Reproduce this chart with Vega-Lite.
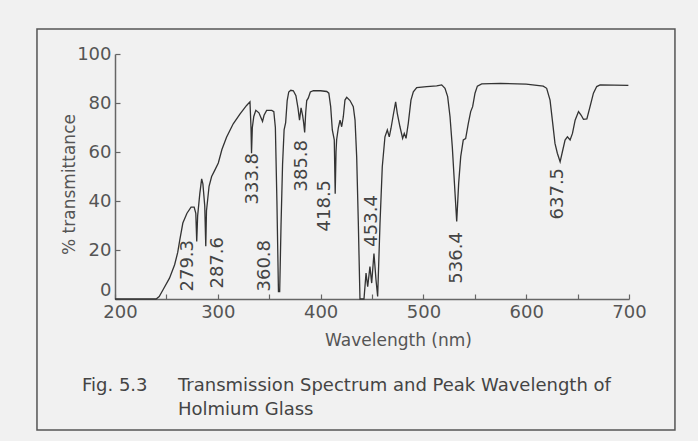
{
  "$schema": "https://vega.github.io/schema/vega-lite/v6.json",
  "width": 514,
  "height": 245,
  "autosize": {"type": "none"},
  "padding": {"left": 115, "top": 54, "right": 69, "bottom": 142},
  "background": "#f1f1f1",
  "config": {
    "view": {"stroke": null},
    "font": "DejaVu Sans",
    "axis": {
      "grid": false,
      "domainColor": "#666",
      "domainWidth": 1.5,
      "tickColor": "#666",
      "tickWidth": 1.2,
      "tickSize": -5,
      "labelFlush": false,
      "labelFont": "DejaVu Sans",
      "labelFontSize": 18,
      "labelColor": "#555",
      "titleFont": "DejaVu Sans",
      "titleFontSize": 17,
      "titleFontWeight": "normal",
      "titleColor": "#555"
    }
  },
  "datasets": {
    "spectrum": [
      {"wl": 200, "t": 0}, {"wl": 240, "t": 0}, {"wl": 243, "t": 1}, {"wl": 247, "t": 4}, {"wl": 253, "t": 8.5},
      {"wl": 258, "t": 14}, {"wl": 261, "t": 19}, {"wl": 263, "t": 24}, {"wl": 266, "t": 31}, {"wl": 270, "t": 35},
      {"wl": 274, "t": 37.5}, {"wl": 277, "t": 37.5}, {"wl": 278.6, "t": 35}, {"wl": 279.5, "t": 23.5}, {"wl": 280.4, "t": 34},
      {"wl": 282.5, "t": 43}, {"wl": 284.3, "t": 49}, {"wl": 285.5, "t": 47}, {"wl": 287.3, "t": 38}, {"wl": 288.3, "t": 21.5},
      {"wl": 289, "t": 36}, {"wl": 290, "t": 40}, {"wl": 291.5, "t": 46}, {"wl": 294, "t": 50}, {"wl": 297, "t": 52.5},
      {"wl": 300.5, "t": 55.5}, {"wl": 304, "t": 61}, {"wl": 308.5, "t": 66}, {"wl": 315, "t": 71.5}, {"wl": 321.5, "t": 75.5},
      {"wl": 328, "t": 79}, {"wl": 331.3, "t": 80.5}, {"wl": 332.3, "t": 70}, {"wl": 332.8, "t": 59.5}, {"wl": 333.6, "t": 70},
      {"wl": 335, "t": 74.5}, {"wl": 337, "t": 77}, {"wl": 340, "t": 76}, {"wl": 343.5, "t": 72.5}, {"wl": 345, "t": 75},
      {"wl": 347.5, "t": 77}, {"wl": 352.5, "t": 77}, {"wl": 354.5, "t": 76.5}, {"wl": 356, "t": 70}, {"wl": 357.5, "t": 40},
      {"wl": 359, "t": 3}, {"wl": 360.2, "t": 3}, {"wl": 361.5, "t": 30}, {"wl": 363, "t": 55}, {"wl": 364.5, "t": 69},
      {"wl": 366, "t": 72}, {"wl": 367.5, "t": 81}, {"wl": 369, "t": 84.5}, {"wl": 371, "t": 85.2}, {"wl": 373.5, "t": 85},
      {"wl": 376, "t": 83}, {"wl": 378, "t": 78}, {"wl": 379.5, "t": 73}, {"wl": 381, "t": 78}, {"wl": 382.5, "t": 75},
      {"wl": 383.5, "t": 72}, {"wl": 384.5, "t": 68}, {"wl": 385.5, "t": 76}, {"wl": 386.5, "t": 81}, {"wl": 388, "t": 82},
      {"wl": 390, "t": 84.5}, {"wl": 393, "t": 85}, {"wl": 400, "t": 85}, {"wl": 406, "t": 84.7}, {"wl": 408, "t": 84},
      {"wl": 409.8, "t": 78.5}, {"wl": 411.4, "t": 69}, {"wl": 413.3, "t": 65}, {"wl": 414.2, "t": 43}, {"wl": 415, "t": 60},
      {"wl": 415.6, "t": 65}, {"wl": 417.2, "t": 69.7}, {"wl": 418.9, "t": 73}, {"wl": 420.5, "t": 70.3}, {"wl": 422.1, "t": 74.4},
      {"wl": 423.7, "t": 81.2}, {"wl": 425.4, "t": 82.3}, {"wl": 428.6, "t": 81}, {"wl": 431.8, "t": 78.5}, {"wl": 433.5, "t": 73},
      {"wl": 435.1, "t": 58}, {"wl": 436.7, "t": 31}, {"wl": 438.3, "t": 0}, {"wl": 442.2, "t": 0}, {"wl": 444.2, "t": 10.6},
      {"wl": 445.8, "t": 5}, {"wl": 448, "t": 13.2}, {"wl": 449.7, "t": 6.5}, {"wl": 451.9, "t": 18.6}, {"wl": 453.9, "t": 7.8},
      {"wl": 455.5, "t": 1}, {"wl": 457.8, "t": 31}, {"wl": 460, "t": 54}, {"wl": 462.6, "t": 66.2}, {"wl": 464.9, "t": 69},
      {"wl": 466.8, "t": 66.2}, {"wl": 468.5, "t": 69.7}, {"wl": 470.7, "t": 75.1}, {"wl": 473, "t": 80.5}, {"wl": 474.6, "t": 75.8},
      {"wl": 477.2, "t": 70.3}, {"wl": 479.8, "t": 65.6}, {"wl": 481.4, "t": 67.6}, {"wl": 483.1, "t": 65.6}, {"wl": 485.3, "t": 71.7},
      {"wl": 487.9, "t": 81.2}, {"wl": 490.2, "t": 84.6}, {"wl": 493.5, "t": 86.3}, {"wl": 503.2, "t": 86.7}, {"wl": 512.9, "t": 87},
      {"wl": 517.8, "t": 87.4}, {"wl": 521, "t": 86}, {"wl": 523.6, "t": 82.6}, {"wl": 525.9, "t": 74.4}, {"wl": 528.1, "t": 62.2},
      {"wl": 530, "t": 48.6}, {"wl": 532.4, "t": 31.6}, {"wl": 534.3, "t": 47.2}, {"wl": 536.3, "t": 58.1}, {"wl": 538.8, "t": 64.9},
      {"wl": 541.1, "t": 65.5}, {"wl": 543.7, "t": 71.7}, {"wl": 546, "t": 76.5}, {"wl": 547.9, "t": 78.5}, {"wl": 550.2, "t": 84},
      {"wl": 552.5, "t": 86.9}, {"wl": 556.7, "t": 87.8}, {"wl": 575, "t": 88}, {"wl": 600, "t": 87.7}, {"wl": 616.6, "t": 86.9},
      {"wl": 619.9, "t": 86}, {"wl": 623.2, "t": 81.2}, {"wl": 625.8, "t": 71.7}, {"wl": 628, "t": 63.5}, {"wl": 630.3, "t": 59.5},
      {"wl": 633, "t": 56}, {"wl": 635.2, "t": 60.1}, {"wl": 637.8, "t": 64.9}, {"wl": 640.1, "t": 66.2}, {"wl": 642.7, "t": 64.9},
      {"wl": 645, "t": 67.6}, {"wl": 647.6, "t": 73}, {"wl": 650.9, "t": 76.5}, {"wl": 653.5, "t": 75}, {"wl": 655.7, "t": 73.3},
      {"wl": 659, "t": 73.5}, {"wl": 662.1, "t": 78.5}, {"wl": 665.4, "t": 84}, {"wl": 668.6, "t": 86.7}, {"wl": 671.9, "t": 87.4},
      {"wl": 699.4, "t": 87.2}
    ],
    "peaks": [
      {"label": "279.3", "wl": 271.0, "t": 24.1},
      {"label": "287.6", "wl": 300.2, "t": 25.3},
      {"label": "333.8", "wl": 334.2, "t": 59.6},
      {"label": "360.8", "wl": 345.9, "t": 24.1},
      {"label": "385.8", "wl": 381.9, "t": 64.9},
      {"label": "418.5", "wl": 404.3, "t": 48.6},
      {"label": "453.4", "wl": 450.0, "t": 42.4},
      {"label": "536.4", "wl": 532.7, "t": 27.3},
      {"label": "637.5", "wl": 630.9, "t": 53.5}
    ]
  },
  "layer": [
    {
      "data": {"name": "spectrum"},
      "mark": {"type": "line", "color": "#333", "strokeWidth": 1.3},
      "encoding": {
        "x": {
          "field": "wl", "type": "quantitative",
          "scale": {"domain": [200, 700], "nice": false, "zero": false},
          "axis": {
            "title": "Wavelength (nm)",
            "values": [200, 250, 300, 350, 400, 450, 500, 550, 600, 650, 700],
            "labelExpr": "datum.value % 100 === 0 ? datum.label : ''",
            "labelPadding": 9,
            "labelOffset": {"condition": {"test": "datum.value == 200", "value": 5}, "value": 0},
            "titleX": 283,
            "titleY": 41,
            "titleAlign": "center",
            "titleBaseline": "middle"
          }
        },
        "y": {
          "field": "t", "type": "quantitative",
          "scale": {"domain": [0, 100], "nice": false},
          "axis": {
            "title": "% transmittance",
            "values": [0, 10, 20, 30, 40, 50, 60, 70, 80, 90, 100],
            "labelExpr": "datum.value % 20 === 0 ? datum.label : ''",
            "labelPadding": 9,
            "labelBaseline": {"condition": {"test": "datum.value == 0", "value": "bottom"}, "value": "middle"},
            "titleX": -46,
            "titleY": 130,
            "titleAlign": "center",
            "titleBaseline": "middle",
            "titleAngle": -90
          }
        }
      }
    },
    {
      "data": {"values": [{}]},
      "mark": {"type": "rect", "filled": false, "stroke": "#555", "strokeWidth": 1.5},
      "encoding": {
        "x": {"datum": 124.1, "type": "quantitative"},
        "x2": {"datum": 744.7},
        "y": {"datum": 110.2, "type": "quantitative"},
        "y2": {"datum": -53.5}
      }
    },
    {
      "data": {"name": "peaks"},
      "mark": {"type": "text", "angle": 270, "align": "right", "baseline": "middle", "font": "DejaVu Sans", "fontSize": 18, "color": "#444"},
      "encoding": {
        "x": {"field": "wl", "type": "quantitative"},
        "y": {"field": "t", "type": "quantitative"},
        "text": {"field": "label"}
      }
    },
    {
      "data": {"values": [{}]},
      "mark": {"type": "text", "align": "left", "baseline": "middle", "font": "DejaVu Sans", "fontSize": 18, "color": "#444"},
      "encoding": {
        "x": {"datum": 167.9, "type": "quantitative"},
        "y": {"datum": -35.5, "type": "quantitative"},
        "text": {"value": "Fig. 5.3"}
      }
    },
    {
      "data": {"values": [{}]},
      "mark": {"type": "text", "align": "left", "baseline": "middle", "font": "DejaVu Sans", "fontSize": 18, "color": "#444"},
      "encoding": {
        "x": {"datum": 261.3, "type": "quantitative"},
        "y": {"datum": -35.5, "type": "quantitative"},
        "text": {"value": "Transmission Spectrum and Peak Wavelength of"}
      }
    },
    {
      "data": {"values": [{}]},
      "mark": {"type": "text", "align": "left", "baseline": "middle", "font": "DejaVu Sans", "fontSize": 18, "color": "#444"},
      "encoding": {
        "x": {"datum": 261.3, "type": "quantitative"},
        "y": {"datum": -45.3, "type": "quantitative"},
        "text": {"value": "Holmium Glass"}
      }
    }
  ]
}
